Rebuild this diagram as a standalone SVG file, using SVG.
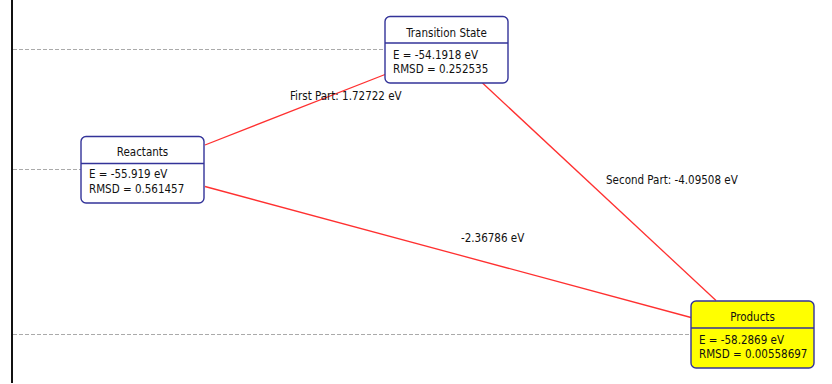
<svg xmlns="http://www.w3.org/2000/svg" width="832" height="384" viewBox="0 0 832 384">
<style>
text{font-family:"DejaVu Sans Condensed","DejaVu Sans",sans-serif;font-size:11.5px;fill:#111}
.box{fill:#fff;stroke:#333399;stroke-width:1.4}
.prod{fill:#ffff00}
.div{stroke:#333399;stroke-width:1.4}
.dash{stroke:#aaa;stroke-width:1;stroke-dasharray:4 2}
.edge{stroke:#ff3030;stroke-width:1.3;fill:none}
.t{text-anchor:middle}
</style>
<rect width="832" height="384" fill="#fff"/>
<g id="guides">
<line class="dash" x1="13" y1="49.5" x2="385" y2="49.5"/>
<line class="dash" x1="13" y1="169.5" x2="81" y2="169.5"/>
<line class="dash" x1="13" y1="334.5" x2="691" y2="334.5"/>
<line x1="12" y1="0" x2="12" y2="383" stroke="#111" stroke-width="2"/>
</g>
<g id="connectors">
<line class="edge" x1="205" y1="145" x2="385" y2="74.5"/>
<line class="edge" x1="205" y1="186.5" x2="691" y2="317.5"/>
<line class="edge" x1="482.5" y1="83" x2="716" y2="300.5"/>
<text x="290" y="100">First Part: 1.72722 eV</text>
<text x="606" y="184">Second Part: -4.09508 eV</text>
<text x="461" y="241.5">-2.36786 eV</text>
</g>
<g id="reactants">
<rect class="box" x="81" y="136.5" width="123" height="66.5" rx="5"/>
<line class="div" x1="81" y1="163.5" x2="204" y2="163.5"/>
<text class="t" x="142.5" y="156">Reactants</text>
<text x="89" y="178">E = -55.919 eV</text>
<text x="89" y="192.5">RMSD = 0.561457</text>
</g>
<g id="transition-state">
<rect class="box" x="385" y="16.5" width="123" height="66.5" rx="5"/>
<line class="div" x1="385" y1="43" x2="508" y2="43"/>
<text class="t" x="446.5" y="36.5">Transition State</text>
<text x="393" y="58.5">E = -54.1918 eV</text>
<text x="393" y="72.5">RMSD = 0.252535</text>
</g>
<g id="products">
<rect class="box prod" x="691" y="301" width="123" height="67" rx="5"/>
<line class="div" x1="691" y1="328" x2="814" y2="328"/>
<text class="t" x="752.5" y="321">Products</text>
<text x="699" y="343.5">E = -58.2869 eV</text>
<text x="699" y="357.5">RMSD = 0.00558697</text>
</g>
</svg>
